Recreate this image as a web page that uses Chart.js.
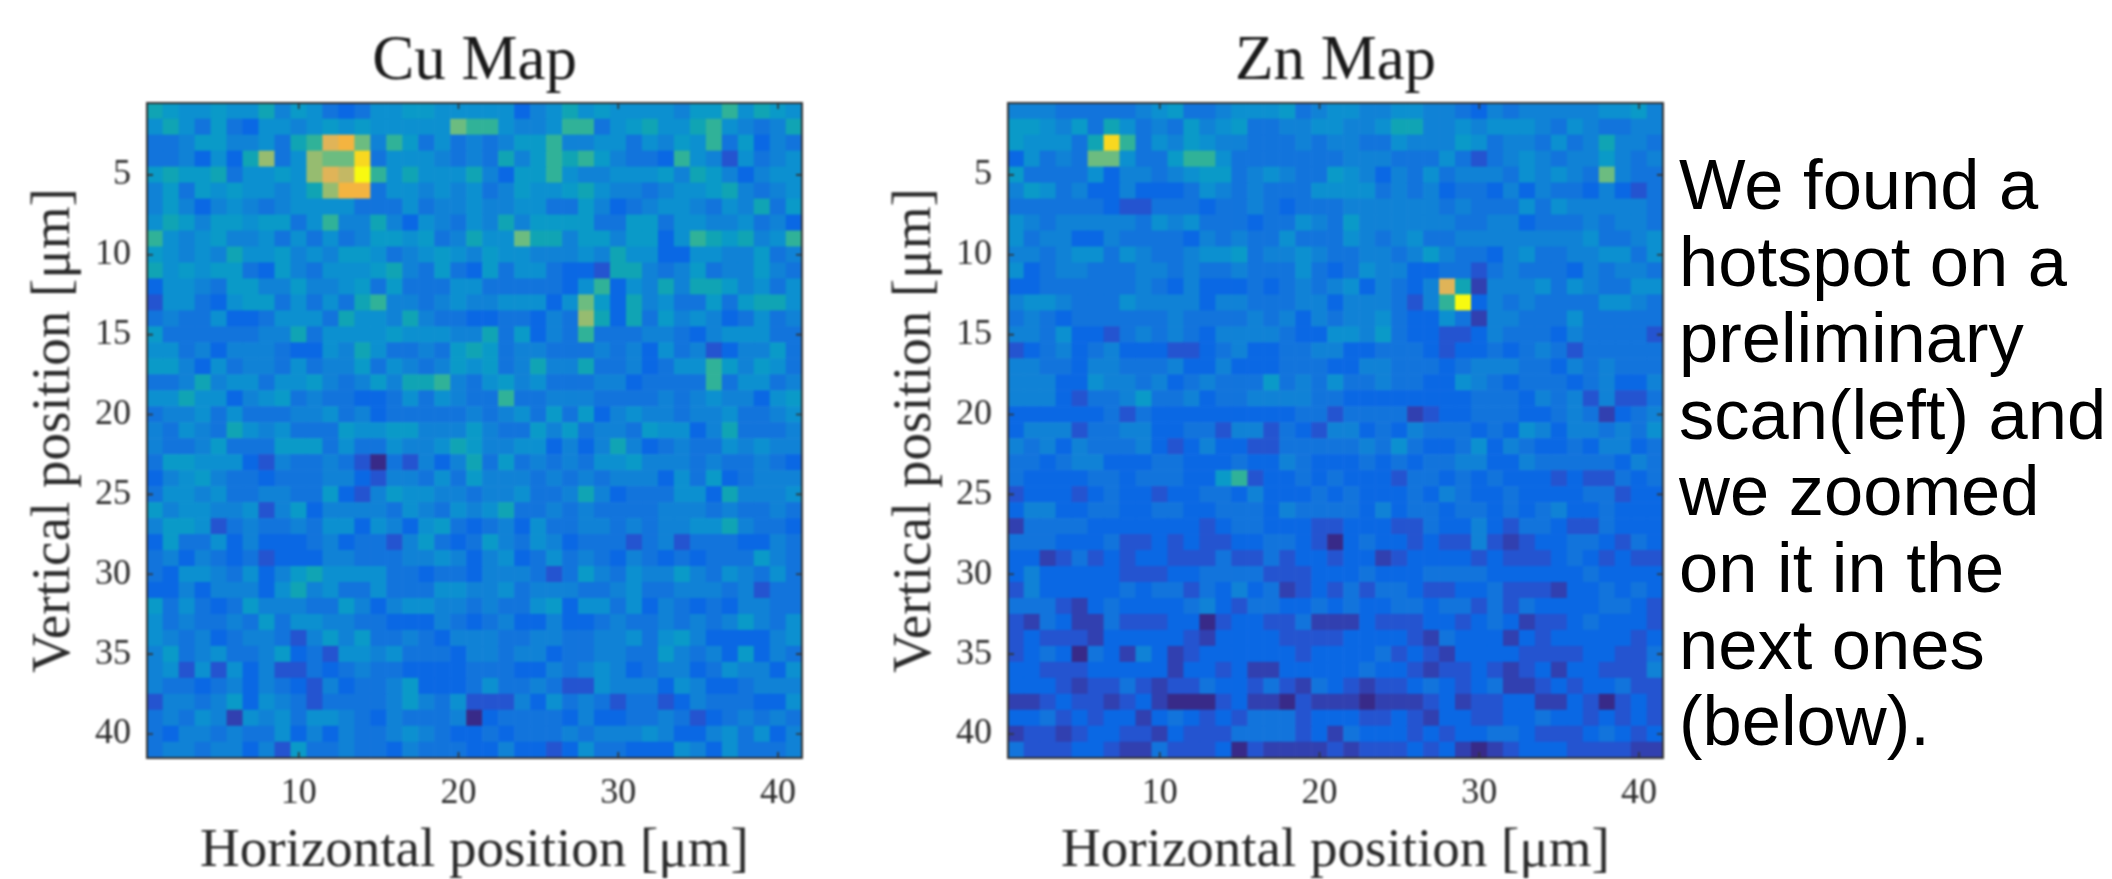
<!DOCTYPE html>
<html>
<head>
<meta charset="utf-8">
<title>Cu and Zn maps</title>
<script src="https://cdn.jsdelivr.net/npm/chart.js@4"></script>
<style>
  html, body { margin: 0; padding: 0; background: #fff; }
  body { width: 2112px; height: 879px; position: relative; overflow: hidden; }
  .map { position: absolute; top: 0; width: 830px; height: 879px; filter: blur(0.8px); }
  #cuBox { left: 0; }
  #znBox { left: 861px; }
  #note {
    position: absolute; left: 1679px; top: 147px; width: 433px;
    font-family: "Liberation Sans", Arial, sans-serif; font-size: 70.5px; line-height: 76.6px;
    color: #000; white-space: pre; filter: blur(0.5px);
  }
</style>
</head>
<body>
<div class="map" id="cuBox"><canvas id="cuChart" width="830" height="879"></canvas></div>
<div class="map" id="znBox"><canvas id="znChart" width="830" height="879"></canvas></div>
<div id="note">We found a
hotspot on a
preliminary
scan(left) and
we zoomed
on it in the
next ones
(below).</div>

<script>
// levels, one character per cell: z = deepest, then 0..f up to brightest
const cuRows = [
  '76556557465323556655555245756555546685765',
  '57536325545656555559885445883567557854347',
  '33466445378cd9486353434668445535465836243',
  '3342527a35a99e355543437468786433285415345',
  '6766735565acbf857555742668544555647642455',
  '46365655457add355454534655675443455674345',
  '46424543455553335344544553364234554354736',
  '57646656635844742543547466663366355445342',
  '85456445353534665634755977466466258767458',
  '65454755645466534565465544454755225544634',
  '75656632643555674363263553221774346344643',
  '25543664464456363335533333258254747764535',
  '15532566353537844345445552596274533636775',
  '343352235553755474332233243a7273645423534',
  '63333334473555565554473624383334432455533',
  '55342444322547533436763443334342534124463',
  '66425344353446354346563474473342355864653',
  '33474553556434647784356453334423333835534',
  '55755245634332235354338334443333434544256',
  '34453533344534233333434536362454434453345',
  '43543754533365566444643364634436552473334',
  '43346333666353354457644552424742343354544',
  '36655521433431z31424736343435564443433432',
  '24564332333442144353644434343444253623444',
  '35545334433621465544344533474233355274445',
  '64554451462444435435457334343333444343343',
  '46651343343552542563234253344343445574332',
  '26335242223423314632364354233313413332243',
  '34243231222443334454245235343243232333643',
  '32554352467555533233244431364354464354353',
  '22424442574533533355445344433453344434133',
  '63532364443364245544343356255352432324433',
  '53433436355443322243234224223433434346435',
  '54342344314646334324443344334453564222245',
  '46345334623155453332443442334433643426243',
  '45151524113234332222333224345423442354425',
  '43323424321423346222353343115444254223444',
  '14434625431333346435111425343133124333225',
  '34354054535543243334z23333242233431234343',
  '32443433524243345432232333434445422453524',
  '34434424163343324333224221253322254253334'
];

const znRows = [
  '44433333456334555634554455443243444445564',
  '66546375343645633445544577445455543543344',
  '655537e8354654433343443354446534435347443',
  '25343995336885333333344433353134543446434',
  '63333524434566345433654243534443545439433',
  '46534224222354343335555343423324243324213',
  '33333321133323343233344444434333535444443',
  '54344444354533323354364444443344233343443',
  '53442243333243433533354345334444444453345',
  '44345535433455634454334434643324533445535',
  '52344333443433433353235442233134333243443',
  '223333334324222323434524324c7044453543355',
  '4554333544442443334424443148f243433335543',
  '34323333334333343424344532253044333533333',
  '44352213434324444322554632211243332433331',
  '12342342221123422334422333212232343133333',
  '44332443334224222333224433323444332434333',
  '44422544342343336343533433225432333234224',
  '44421334633423344443322222222333243414113',
  '22222231322222222233133330122333223430234',
  '24441334422331441321442324333232542443435',
  '43424333421242211333334353223524322324423',
  '33234422233222322432223232334422433333243',
  '32222332333226812232322213323232221211323',
  '12221232212233242223232223243223222233122',
  '24422332233223332433332423323323234223222',
  '03333222222212332221122211322421332113222',
  '33322231121211223321z23221211410122332132',
  '22013121221113113122122012222121112321211',
  '24222221112233331112223222333322222232222',
  '14222223233132423012131332112231110223232',
  '33310232222342133223232233233131322223321',
  '103200311122z1221130002111221232011232221',
  '12111022222102222111122221032220212222212',
  '1232z320420122222212222312102222111122113',
  '22111222220221200222223221011210120221114',
  '22210113101132213103210112321230012122311',
  '0012110120zzz1200z1000z00012011220021z121',
  '22312122023212133312221121022112232212121',
  '01101221102111333312032221212233211123212',
  '31112210031112z10000101112120z01222111100'
];

const xTickValues = [10, 20, 30, 40];
const yTickValues = [5, 10, 15, 20, 25, 30, 35, 40];

const deepestColor = '#382a88';
// roughly parula, one colour per level 0..f
const levelColors = [
  '#3140b0', '#2454d0', '#0a68e4', '#1274dc', '#1082d6', '#0c90d0', '#0a9ac8', '#10a4b4',
  '#30b298', '#6cbc80', '#96bc70', '#c4b864', '#e0b458', '#f4b440', '#f8d820', '#f8fa10'
];

const serif = '"Liberation Serif", "Times New Roman", serif';
const inkColor = '#2b2b2b';

function rowsToCells(rows) {
  const cells = [];
  rows.forEach((row, r) => {
    row.split('').forEach((ch, c) => {
      cells.push({ x: c + 1, y: r + 1, level: ch });
    });
  });
  return cells;
}

function cellColor(level) {
  return level === 'z' ? deepestColor : levelColors[parseInt(level, 16)];
}

// box and inward ticks on all four sides, like the matlab axes
const boxTicks = {
  id: 'boxTicks',
  afterDatasetsDraw(chart) {
    const { ctx, chartArea: a, scales } = chart;
    const len = 6;
    ctx.save();
    ctx.strokeStyle = '#333';
    ctx.lineWidth = 1.6;
    ctx.beginPath();
    xTickValues.forEach(v => {
      const px = scales.x.getPixelForValue(v);
      ctx.moveTo(px, a.bottom); ctx.lineTo(px, a.bottom - len);
      ctx.moveTo(px, a.top); ctx.lineTo(px, a.top + len);
    });
    yTickValues.forEach(v => {
      const py = scales.y.getPixelForValue(v);
      ctx.moveTo(a.left, py); ctx.lineTo(a.left + len, py);
      ctx.moveTo(a.right, py); ctx.lineTo(a.right - len, py);
    });
    ctx.stroke();
    ctx.lineWidth = 2;
    ctx.strokeRect(a.left, a.top, a.right - a.left, a.bottom - a.top);
    ctx.restore();
  }
};

function drawMap(canvasId, titleText, rows) {
  new Chart(document.getElementById(canvasId), {
    type: 'scatter',
    data: {
      datasets: [{
        data: rowsToCells(rows),
        pointStyle: 'rect',
        borderWidth: 0,
        // a rect point's half side is radius / sqrt(2)
        pointRadius: ctx => (ctx.chart.scales.x.width / 41 / 2 + 0.3) * Math.SQRT2,
        backgroundColor: ctx => cellColor(ctx.raw.level)
      }]
    },
    plugins: [boxTicks],
    options: {
      responsive: false,
      animation: false,
      events: [],
      layout: { padding: { right: 28 } },
      plugins: {
        legend: { display: false },
        tooltip: { enabled: false },
        title: {
          display: true,
          fullSize: false,
          text: titleText,
          color: '#1a1a1a',
          font: { family: serif, size: 63, weight: 'normal', lineHeight: 1 },
          padding: { top: 31, bottom: 9 }
        }
      },
      scales: {
        x: {
          type: 'linear',
          min: 0.5,
          max: 41.5,
          grid: { display: false, drawTicks: false },
          border: { display: false },
          afterBuildTicks: scale => { scale.ticks = xTickValues.map(v => ({ value: v })); },
          afterFit: scale => { scale.height = 121; },
          ticks: {
            color: inkColor,
            maxRotation: 0,
            autoSkip: false,
            padding: 14,
            font: { family: serif, size: 36 }
          },
          title: {
            display: true,
            text: 'Horizontal position [μm]',
            color: inkColor,
            font: { family: serif, size: 55, lineHeight: 1 },
            padding: { top: 11, bottom: 0 }
          }
        },
        y: {
          type: 'linear',
          reverse: true,
          min: 0.5,
          max: 41.5,
          grid: { display: false, drawTicks: false },
          border: { display: false },
          afterBuildTicks: scale => { scale.ticks = yTickValues.map(v => ({ value: v })); },
          afterFit: scale => { scale.width = 147; },
          ticks: {
            color: inkColor,
            autoSkip: false,
            padding: 16,
            font: { family: serif, size: 36 }
          },
          title: {
            display: true,
            text: 'Vertical position [μm]',
            color: inkColor,
            font: { family: serif, size: 55, lineHeight: 1 },
            padding: { top: 27, bottom: 0 }
          }
        }
      }
    }
  });
}

document.addEventListener('DOMContentLoaded', () => {
  drawMap('cuChart', 'Cu Map', cuRows);
  drawMap('znChart', 'Zn Map', znRows);
});
</script>
</body>
</html>
